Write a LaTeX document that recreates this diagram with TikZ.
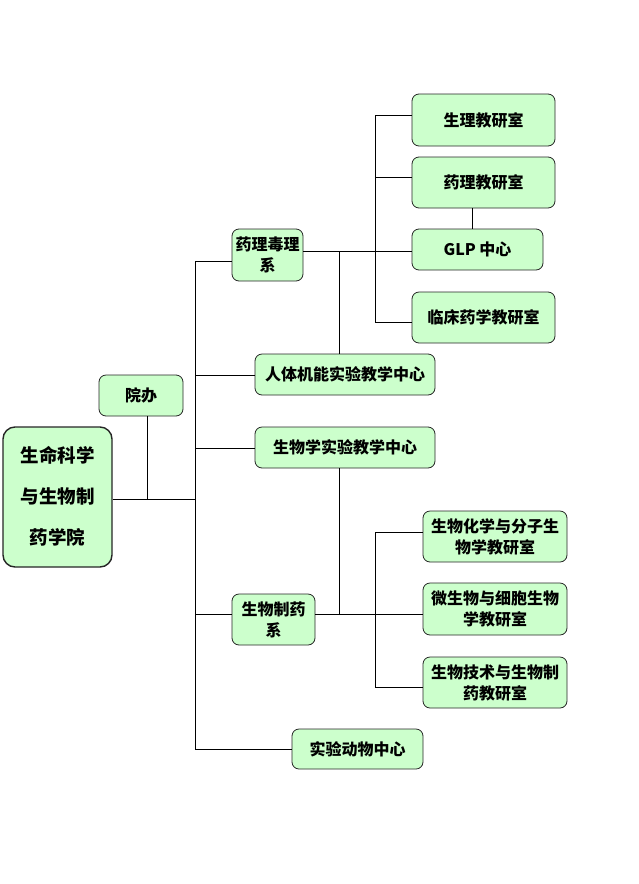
\documentclass[tikz,border=0pt]{standalone}
\usepackage{fontspec}
\setmainfont{Noto Sans CJK SC}
\begin{document}
\begin{tikzpicture}[x=1pt,y=-1pt,
  box/.style={draw=black!85, line width=0.8pt, fill=boxgreen, rounded corners=7pt,
    align=center, inner sep=0pt, font=\bfseries\fontsize{16}{21}\selectfont},
  link/.style={draw=black, line width=0.7pt}]
\definecolor{boxgreen}{HTML}{CCFFCC}
\useasboundingbox (0,0) rectangle (639,884);
% nodes
\node[box, line width=1.4pt, rounded corners=12pt, minimum width=109pt, minimum height=140pt,
  font=\bfseries\fontsize{18.5}{41}\selectfont] (main) at (57.5,497) {\raisebox{3pt}{生命科学}\\\raisebox{3pt}{与生物制}\\\raisebox{3pt}{药学院}};
\node[box, minimum width=84pt, minimum height=41pt] (yuanban) at (141,395.5) {院办};
\node[box, minimum width=71pt, minimum height=52pt] (yaoli) at (267.5,255) {药理毒理\\系};
\node[box, minimum width=143pt, minimum height=52pt] (shengli) at (483.5,120) {生理教研室};
\node[box, minimum width=143pt, minimum height=51pt] (yaolijys) at (483.5,182.5) {药理教研室};
\node[box, minimum width=131pt, minimum height=41pt] (glp) at (477.5,249.5) {GLP 中心};
\node[box, minimum width=143pt, minimum height=51pt] (linchuang) at (483.5,317.5) {临床药学教研室};
\node[box, minimum width=180pt, minimum height=41pt] (renti) at (345,374.5) {人体机能实验教学中心};
\node[box, minimum width=180pt, minimum height=41pt] (shengwuxue) at (345,447.5) {生物学实验教学中心};
\node[box, minimum width=83pt, minimum height=51pt] (swzy) at (273.5,619.5) {生物制药\\系};
\node[box, minimum width=144pt, minimum height=51pt] (shenghua) at (495,536.5) {生物化学与分子生\\物学教研室};
\node[box, minimum width=144pt, minimum height=52pt] (weishengwu) at (495,609) {微生物与细胞生物\\学教研室};
\node[box, minimum width=144pt, minimum height=51pt] (shengji) at (495,682.5) {生物技术与生物制\\药教研室};
\node[box, minimum width=131pt, minimum height=40pt] (dongwu) at (357.5,749) {实验动物中心};
% junction coordinates
\coordinate (j0) at (195,499);
\coordinate (jy) at (147,499);
\coordinate (t1) at (195,261);
\coordinate (t2) at (195,375);
\coordinate (t3) at (195,448);
\coordinate (t4) at (195,614);
\coordinate (t5) at (195,749);
\coordinate (v1) at (339,251);
\coordinate (v2) at (339,614);
\coordinate (u1) at (375,115);
\coordinate (u2) at (375,177);
\coordinate (u4) at (375,322);
\coordinate (w1) at (375,532);
\coordinate (w3) at (375,687);
\coordinate (g1) at (472,208);
% connectors
\draw[link] (main.east |- j0) -- (j0);
\draw[link] (yuanban.south -| jy) -- (jy);
\draw[link] (t1) -- (t5);
\draw[link] (t1) -- (t1 -| yaoli.west);
\draw[link] (t2) -- (t2 -| renti.west);
\draw[link] (t3) -- (t3 -| shengwuxue.west);
\draw[link] (yaoli.east |- v1) -- (v1 -| glp.west);
\draw[link] (v1) -- (v1 |- renti.north);
\draw[link] (v2 |- shengwuxue.south) -- (v2);
\draw[link] (u1) -- (u4);
\draw[link] (u1) -- (u1 -| shengli.west);
\draw[link] (u2) -- (u2 -| yaolijys.west);
\draw[link] (u4) -- (u4 -| linchuang.west);
\draw[link] (yaolijys.south -| g1) -- (glp.north -| g1);
\draw[link] (t4) -- (t4 -| swzy.west);
\draw[link] (t5) -- (dongwu.west);
\draw[link] (swzy.east |- v2) -- (v2 -| weishengwu.west);
\draw[link] (w1) -- (w3);
\draw[link] (w1) -- (w1 -| shenghua.west);
\draw[link] (w3) -- (w3 -| shengji.west);
\end{tikzpicture}
\end{document}
